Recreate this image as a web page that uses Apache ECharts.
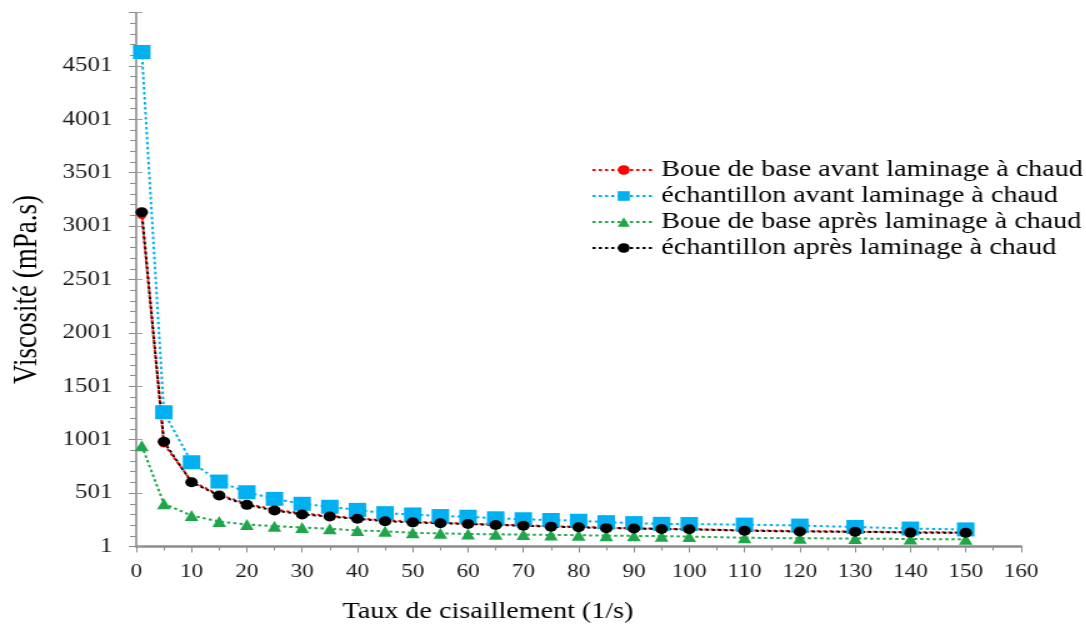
<!DOCTYPE html>
<html>
<head>
<meta charset="utf-8">
<script src="https://cdn.jsdelivr.net/npm/echarts@6/dist/echarts.min.js"></script>
<style>
  html, body { margin: 0; padding: 0; background: #fff; overflow: hidden; }
  /* the figure is drawn at a narrower width and widened horizontally */
  #chart { width: 869px; height: 632px; transform: scaleX(1.25); transform-origin: 0 0; }
</style>
</head>
<body>
<div id="chart"></div>
<script>
// Shear rate (1/s)
const shearRate = [1, 5, 10, 15, 20, 25, 30, 35, 40, 45, 50, 55, 60, 65, 70, 75, 80, 85, 90, 95, 100, 110, 120, 130, 140, 150];

// Viscosity (mPa.s) for each fluid
const boueAvant = [3100, 960, 610, 485, 400, 345, 310, 285, 265, 245, 232, 222, 214, 205, 198, 190, 184, 176, 171, 166, 163, 152, 144, 140, 134, 131];
const echAvant  = [4630, 1257, 789, 608, 508, 446, 400, 372, 343, 312, 300, 285, 279, 264, 255, 248, 241, 228, 219, 212, 210, 205, 196, 183, 168, 160];
const boueApres = [943, 400, 290, 234, 206, 190, 178, 166, 150, 143, 128, 123, 117, 114, 112, 108, 106, 101, 100, 97, 93, 82, 77, 75, 70, 67];
const echApres  = [3130, 980, 602, 477, 390, 337, 300, 281, 259, 237, 226, 217, 211, 201, 195, 186, 180, 172, 169, 164, 161, 148, 140, 138, 130, 128];

const seriesNames = [
  'Boue de base avant laminage à chaud',
  'échantillon avant laminage à chaud',
  'Boue de base après laminage à chaud',
  'échantillon après laminage à chaud'
];
const xAxisTitle = 'Taux de cisaillement (1/s)';
const yAxisTitle = 'Viscosité (mPa.s)';

// axis ranges; y tick labels read 1, 501, 1001, ...
const xMin = 0, xMax = 160, xStep = 10;
const yMin = 0, yMax = 5000, yStep = 500, yLabelOffset = 1;

const serif = 'Liberation Serif';
const pairs = vals => shearRate.map((x, i) => [x, vals[i]]);

const yCommon = {
  type: 'value', min: yMin, max: yMax, interval: yStep, position: 'left'
};

const chart = echarts.init(document.getElementById('chart'));
chart.setOption({
  backgroundColor: '#ffffff',
  animation: false,
  grid: { left: 108.8, right: 52.2, top: 12.5, bottom: 85.5, containLabel: false },
  legend: {
    orient: 'vertical',
    left: 468, top: 153,
    itemWidth: 50, itemHeight: 12, itemGap: 2,
    textStyle: { fontFamily: serif, fontSize: 22.5, color: '#000', lineHeight: 24 },
    data: seriesNames
  },
  xAxis: {
    type: 'value', min: xMin, max: xMax, interval: xStep,
    name: xAxisTitle, nameLocation: 'middle', nameGap: 54,
    nameTextStyle: { fontFamily: serif, fontSize: 22.5, color: '#000', padding: [0, 145, 0, 0] },
    axisLine: { show: true, lineStyle: { color: '#8c8c8c', width: 2.6 } },
    axisTick: { show: true, length: 6, lineStyle: { color: '#8c8c8c', width: 1 } },
    minorTick: { show: true, splitNumber: 2, length: 4, lineStyle: { color: '#8c8c8c', width: 1 } },
    axisLabel: { fontFamily: serif, fontSize: 18.5, color: '#1a1a1a', margin: 16 },
    splitLine: { show: false }
  },
  yAxis: [
    Object.assign({}, yCommon, {
      name: yAxisTitle, nameLocation: 'middle', nameGap: 74,
      nameTextStyle: { fontFamily: serif, fontSize: 27, color: '#000', padding: [0, 20, 0, 0] },
      axisLine: { show: true, lineStyle: { color: '#8c8c8c', width: 1.6 } },
      axisTick: { show: true, length: 6, lineStyle: { color: '#8c8c8c', width: 1 } },
      minorTick: { show: true, splitNumber: 5, length: 5, lineStyle: { color: '#8c8c8c', width: 1 } },
      axisLabel: { fontFamily: serif, fontSize: 20, color: '#1a1a1a', margin: 19, showMaxLabel: false,
                   formatter: v => String(v + yLabelOffset) },
      splitLine: { show: false }
    }),
    // inner half of the crossing major ticks
    Object.assign({}, yCommon, {
      axisLine: { show: false },
      axisTick: { show: true, inside: true, length: 5, lineStyle: { color: '#a0a0a0', width: 1 } },
      axisLabel: { show: false },
      splitLine: { show: false }
    })
  ],
  series: [
    {
      name: seriesNames[0], type: 'line', data: pairs(boueAvant),
      symbol: 'circle', symbolSize: 7,
      itemStyle: { color: '#ff0000' },
      lineStyle: { color: '#ff0000', width: 2, type: [2.5, 2.5] }
    },
    {
      name: seriesNames[1], type: 'line', data: pairs(echAvant),
      symbol: 'rect', symbolSize: 14,
      itemStyle: { color: '#00b0f0' },
      lineStyle: { color: '#00b0f0', width: 2, type: [2.5, 2.5] }
    },
    {
      name: seriesNames[2], type: 'line', data: pairs(boueApres),
      symbol: 'triangle', symbolSize: 11,
      itemStyle: { color: '#1fa64a' },
      lineStyle: { color: '#1fa64a', width: 2, type: [2.5, 2.5] }
    },
    {
      name: seriesNames[3], type: 'line', data: pairs(echApres),
      symbol: 'circle', symbolSize: 10,
      itemStyle: { color: '#000000' },
      lineStyle: { color: '#000000', width: 2, type: [2.5, 2.5] }
    }
  ]
});
</script>
</body>
</html>
